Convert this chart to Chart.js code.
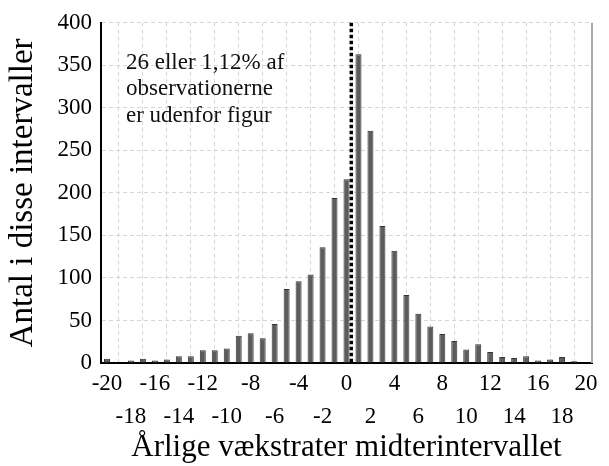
<!DOCTYPE html>
<html>
<head>
<meta charset="utf-8">
<script src="https://cdn.jsdelivr.net/npm/chart.js@4/dist/chart.umd.min.js"></script>
<style>
    html, body { margin: 0; padding: 0; background: #fff; }
    #wrap { width: 609px; height: 466px; }
</style>
</head>
<body>
<div id="wrap"><canvas id="chart" width="609" height="466"></canvas></div>
<script>
// Data
const categories = [-20, -19, -18, -17, -16, -15, -14, -13, -12, -11, -10, -9, -8, -7, -6, -5, -4, -3, -2, -1,
    0, 1, 2, 3, 4, 5, 6, 7, 8, 9, 10, 11, 12, 13, 14, 15, 16, 17, 18, 19, 20];
const counts = [5, 0, 3, 5, 3, 4, 8, 8, 15, 15, 17, 32, 35, 29, 46, 87, 96, 104, 136, 194,
    216, 363, 273, 161, 132, 80, 58, 43, 34, 26, 16, 22, 13, 7, 6, 8, 3, 4, 7, 2, 0];
const yTicks = [0, 50, 100, 150, 200, 250, 300, 350, 400];
const refLine = 0.4; // placering af den prikkede linje
const noteLines = ['26 eller 1,12% af', 'observationerne', 'er udenfor figur'];

const serif = 'Liberation Serif';

// Prikket linje, højre kant og tekstboks
const overlay = {
    id: 'overlay',
    afterDatasetsDraw(chart) {
        const { ctx, chartArea, scales } = chart;
        const xs = scales.x;
        const base = Math.floor(refLine);
        const i0 = categories.indexOf(base);
        const p0 = xs.getPixelForValue(i0);
        const p1 = xs.getPixelForValue(i0 + 1);
        const px = p0 + (refLine - base) * (p1 - p0);

        ctx.save();
        ctx.strokeStyle = '#a9a9a9';
        ctx.lineWidth = 2;
        ctx.beginPath();
        ctx.moveTo(chartArea.right, chartArea.top);
        ctx.lineTo(chartArea.right, chartArea.bottom);
        ctx.stroke();

        ctx.strokeStyle = '#000';
        ctx.lineWidth = 3.5;
        ctx.setLineDash([3.5, 2.5]);
        ctx.beginPath();
        ctx.moveTo(px, chartArea.top);
        ctx.lineTo(px, chartArea.bottom);
        ctx.stroke();
        ctx.setLineDash([]);

        ctx.fillStyle = '#111';
        ctx.font = '23px "' + serif + '"';
        ctx.textBaseline = 'middle';
        ctx.textAlign = 'left';
        noteLines.forEach((t, i) => {
            ctx.fillText(t, chartArea.left + 25, chartArea.top + 40 + i * 26.5);
        });
        ctx.restore();
    }
};

const ctx = document.getElementById('chart').getContext('2d');
new Chart(ctx, {
    type: 'bar',
    data: {
        labels: categories,
        datasets: [{
            data: counts,
            backgroundColor: '#5c5c5c',
            borderColor: '#333',
            borderWidth: 1,
            barPercentage: 0.5,
            categoryPercentage: 1.0
        }]
    },
    options: {
        responsive: false,
        animation: false,
        layout: { padding: { top: 22, right: 17, left: 0, bottom: 0 } },
        plugins: {
            legend: { display: false },
            tooltip: { enabled: false }
        },
        scales: {
            x: {
                grid: {
                    offset: false,
                    drawTicks: false,
                    lineWidth: 1,
                    color: (c) => (c.index % 2 === 1 ? '#d6d6d6' : 'rgba(0,0,0,0)')
                },
                border: { display: true, color: '#000', width: 2, dash: [4, 3] },
                ticks: {
                    autoSkip: false,
                    maxRotation: 0,
                    minRotation: 0,
                    padding: 4,
                    color: '#000',
                    font: { family: serif, size: 23, lineHeight: 1.45 },
                    callback: (value, index) => {
                        const v = categories[index];
                        if (v % 4 === 0) return String(v);
                        if (v % 2 === 0) return ['', String(v)];
                        return '';
                    }
                },
                title: {
                    display: true,
                    text: 'Årlige vækstrater midterintervallet',
                    color: '#000',
                    font: { family: serif, size: 31 },
                    padding: { top: 0, bottom: 0 }
                },
                afterFit: (scale) => { scale.height = 103; }
            },
            y: {
                min: 0,
                max: 400,
                afterBuildTicks: (scale) => { scale.ticks = yTicks.map(v => ({ value: v })); },
                grid: {
                    drawTicks: false,
                    color: (c) => (c.tick && c.tick.value === 0 ? 'rgba(0,0,0,0)' : '#d6d6d6')
                },
                border: { display: true, color: '#000', width: 2, dash: [4, 3] },
                ticks: {
                    padding: 9,
                    color: '#000',
                    font: { family: serif, size: 23 }
                },
                title: {
                    display: true,
                    text: 'Antal i disse intervaller',
                    color: '#000',
                    font: { family: serif, size: 33 },
                    padding: { top: 4, bottom: 0 }
                },
                afterFit: (scale) => { scale.width = 101; }
            }
        }
    },
    plugins: [overlay]
});
</script>
</body>
</html>
